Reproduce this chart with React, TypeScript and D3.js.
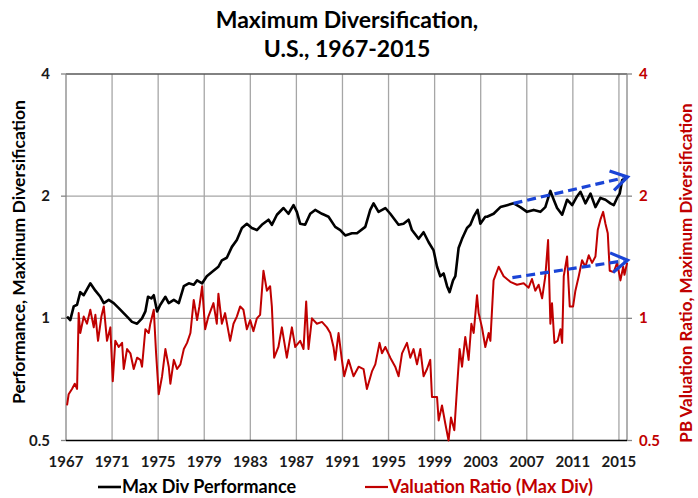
import React from "react";
import * as d3 from "d3";

const title = ["Maximum Diversification,", "U.S., 1967-2015"];
const leftAxisTitle = "Performance, Maximum Diversification";
const rightAxisTitle = "PB Valuation Ratio, Maximum Diversification";
const xTicks = [1967, 1971, 1975, 1979, 1983, 1987, 1991, 1995, 1999, 2003, 2007, 2011, 2015];
const yTicks = [0.5, 1, 2, 4];
const yTickLabels = ["0.5", "1", "2", "4"];
const seriesNames = ["Max Div Performance", "Valuation Ratio (Max Div)"];

// [year, value]
const performance: [number, number][] = [
  [1967.09, 1.01], [1967.37, 0.99], [1967.67, 1.07], [1967.96, 1.08], [1968.24, 1.16], [1968.54, 1.14],
  [1969.11, 1.22], [1969.55, 1.17], [1969.98, 1.13], [1970.28, 1.09], [1970.71, 1.11], [1971.14, 1.09],
  [1971.58, 1.06], [1972.3, 1.01], [1972.73, 0.98], [1973.17, 0.97], [1973.6, 1.0], [1973.89, 1.04],
  [1974.12, 1.13], [1974.41, 1.12], [1974.62, 1.14], [1974.91, 1.04], [1975.19, 1.08], [1975.63, 1.13],
  [1975.92, 1.09], [1976.36, 1.11], [1976.79, 1.09], [1977.23, 1.2], [1977.66, 1.22], [1978.09, 1.21],
  [1978.38, 1.24], [1978.82, 1.22], [1979.22, 1.27], [1979.8, 1.31], [1980.23, 1.34], [1980.53, 1.39],
  [1980.96, 1.41], [1981.4, 1.5], [1981.83, 1.56], [1982.27, 1.67], [1982.7, 1.71], [1983.13, 1.67],
  [1983.57, 1.65], [1984.0, 1.7], [1984.58, 1.75], [1984.87, 1.7], [1985.31, 1.8], [1985.88, 1.87],
  [1986.31, 1.81], [1986.75, 1.9], [1987.04, 1.83], [1987.33, 1.71], [1987.76, 1.7], [1988.2, 1.81],
  [1988.63, 1.85], [1989.22, 1.81], [1989.79, 1.78], [1990.37, 1.68], [1990.81, 1.65], [1991.24, 1.6],
  [1991.82, 1.62], [1992.26, 1.62], [1992.98, 1.68], [1993.41, 1.85], [1993.7, 1.92], [1994.13, 1.83],
  [1994.72, 1.87], [1995.15, 1.81], [1995.87, 1.7], [1996.3, 1.71], [1996.74, 1.75], [1997.03, 1.65],
  [1997.61, 1.57], [1998.04, 1.63], [1998.48, 1.54], [1998.91, 1.47], [1999.21, 1.34], [1999.49, 1.27],
  [1999.78, 1.29], [2000.08, 1.2], [2000.3, 1.16], [2000.6, 1.24], [2000.8, 1.27], [2001.08, 1.49],
  [2001.38, 1.57], [2001.81, 1.67], [2002.1, 1.7], [2002.39, 1.78], [2002.73, 1.85], [2002.97, 1.71],
  [2003.4, 1.78], [2003.55, 1.78], [2004.12, 1.81], [2004.71, 1.88], [2005.29, 1.9], [2005.86, 1.92],
  [2006.44, 1.88], [2007.02, 1.83], [2007.6, 1.85], [2008.18, 1.83], [2008.61, 1.88], [2009.05, 2.06],
  [2009.34, 1.96], [2009.63, 1.87], [2010.07, 1.8], [2010.5, 1.96], [2010.94, 1.9], [2011.37, 2.0],
  [2011.66, 2.05], [2012.09, 1.92], [2012.53, 2.03], [2012.96, 1.88], [2013.39, 1.98], [2013.83, 1.96],
  [2014.26, 1.92], [2014.55, 1.9], [2014.84, 1.98], [2015.07, 2.03], [2015.28, 2.19], [2015.71, 2.23],
];

const valuation: [number, number][] = [
  [1967.09, 0.61], [1967.23, 0.65], [1967.52, 0.67], [1967.76, 0.69], [1967.96, 0.67], [1968.1, 1.03],
  [1968.24, 0.92], [1968.54, 1.01], [1968.82, 0.97], [1969.11, 1.05], [1969.41, 0.95], [1969.55, 1.02],
  [1969.78, 0.88], [1970.07, 1.01], [1970.28, 1.07], [1970.56, 0.88], [1970.85, 0.95], [1971.06, 0.7],
  [1971.28, 0.88], [1971.58, 0.85], [1971.87, 0.87], [1972.01, 0.75], [1972.3, 0.84], [1972.59, 0.82],
  [1972.88, 0.75], [1973.17, 0.8], [1973.46, 0.79], [1973.6, 0.76], [1973.89, 0.94], [1974.18, 0.92],
  [1974.32, 0.97], [1974.62, 1.05], [1974.82, 0.82], [1975.05, 0.65], [1975.34, 0.72], [1975.63, 0.84],
  [1975.92, 0.76], [1976.06, 0.69], [1976.36, 0.79], [1976.64, 0.75], [1976.93, 0.77], [1977.23, 0.84],
  [1977.51, 0.87], [1977.8, 0.92], [1978.09, 1.11], [1978.38, 0.99], [1978.58, 1.07], [1978.82, 1.2],
  [1979.08, 0.94], [1979.36, 1.01], [1979.8, 1.09], [1980.09, 0.97], [1980.23, 1.15], [1980.53, 0.97],
  [1980.81, 1.03], [1981.25, 0.88], [1981.54, 0.97], [1981.83, 1.01], [1982.12, 1.07], [1982.4, 1.05],
  [1982.7, 0.94], [1982.99, 0.99], [1983.27, 0.93], [1983.57, 1.0], [1983.85, 1.02], [1984.14, 1.31],
  [1984.44, 1.17], [1984.72, 1.2], [1984.87, 1.07], [1985.07, 0.8], [1985.44, 0.85], [1985.74, 0.95],
  [1986.17, 0.8], [1986.61, 0.95], [1986.9, 0.85], [1987.33, 0.88], [1987.62, 0.84], [1987.85, 1.1],
  [1988.05, 0.84], [1988.35, 1.0], [1988.78, 0.97], [1989.22, 0.98], [1989.65, 0.95], [1989.94, 0.92],
  [1990.22, 0.85], [1990.37, 0.79], [1990.66, 0.92], [1990.95, 0.79], [1991.15, 0.72], [1991.53, 0.79],
  [1991.96, 0.72], [1992.4, 0.76], [1992.83, 0.75], [1993.12, 0.67], [1993.56, 0.74], [1993.85, 0.77],
  [1994.22, 0.87], [1994.43, 0.82], [1994.72, 0.85], [1995.15, 0.8], [1995.58, 0.76], [1995.87, 0.72],
  [1996.17, 0.82], [1996.6, 0.87], [1996.89, 0.8], [1997.17, 0.84], [1997.47, 0.77], [1997.76, 0.84],
  [1998.04, 0.72], [1998.34, 0.75], [1998.62, 0.79], [1998.77, 0.64], [1999.21, 0.64], [1999.35, 0.56],
  [1999.64, 0.61], [1999.93, 0.55], [2000.21, 0.5], [2000.42, 0.57], [2000.71, 0.53], [2000.94, 0.67],
  [2001.17, 0.84], [2001.38, 0.76], [2001.66, 0.9], [2001.95, 0.79], [2002.19, 0.97], [2002.39, 0.92],
  [2002.68, 1.14], [2002.82, 1.03], [2003.11, 0.95], [2003.4, 0.85], [2003.69, 0.92], [2003.84, 0.88],
  [2004.12, 1.24], [2004.56, 1.34], [2004.99, 1.27], [2005.57, 1.23], [2006.15, 1.21], [2006.73, 1.22],
  [2007.16, 1.19], [2007.45, 1.25], [2007.74, 1.17], [2008.03, 1.21], [2008.33, 1.12], [2008.61, 1.27],
  [2008.85, 1.56], [2009.05, 0.97], [2009.19, 1.09], [2009.4, 0.87], [2009.68, 0.88], [2009.92, 0.94],
  [2010.07, 0.87], [2010.21, 1.27], [2010.5, 1.42], [2010.73, 1.07], [2011.02, 1.07], [2011.22, 1.17],
  [2011.51, 1.27], [2011.8, 1.39], [2012.09, 1.34], [2012.38, 1.43], [2012.67, 1.37], [2012.96, 1.42],
  [2013.16, 1.65], [2013.39, 1.75], [2013.63, 1.83], [2013.83, 1.71], [2014.03, 1.62], [2014.2, 1.31],
  [2014.55, 1.3], [2014.84, 1.37], [2015.13, 1.24], [2015.37, 1.34], [2015.48, 1.28], [2015.71, 1.37],
];

// trend arrows: [x0, y0, x1, y1]
const arrows: [number, number, number, number][] = [
  [2005.85, 1.92, 2015.75, 2.23],
  [2005.75, 1.26, 2015.75, 1.39],
];

const FONT = "Lato, 'Open Sans', sans-serif";
const RED = "#C00000";
const BLUE = "#1A44D6";
const GRID = "#A6A6A6";

export default function App() {
  const left = 66, right = 627, top = 74, bottom = 440.5;
  const x = d3.scaleLinear().domain([1967, 2015.7]).range([left, right]);
  const y = d3.scaleLog().base(2).domain([0.5, 4]).range([bottom, top]);
  const line = d3.line<[number, number]>().x((d) => x(d[0])).y((d) => y(d[1]));

  const arrowEls = arrows.map((a, i) => {
    const x0 = x(a[0]), y0 = y(a[1]), x1 = x(a[2]), y1 = y(a[3]);
    const ang = Math.atan2(y1 - y0, x1 - x0);
    const L = 19, spread = 0.55;
    const h1 = [x1 - L * Math.cos(ang - spread), y1 - L * Math.sin(ang - spread)];
    const h2 = [x1 - L * Math.cos(ang + spread), y1 - L * Math.sin(ang + spread)];
    return (
      <g key={i}>
        <line x1={x0} y1={y0} x2={x1 - 4 * Math.cos(ang)} y2={y1 - 4 * Math.sin(ang)} stroke={BLUE} strokeWidth={3.2} strokeDasharray="9,5" />
        <polyline points={`${h1[0]},${h1[1]} ${x1},${y1} ${h2[0]},${h2[1]}`} fill="none" stroke={BLUE} strokeWidth={3.2} strokeLinejoin="miter" />
      </g>
    );
  });

  return (
    <svg width={698} height={498} style={{ position: "absolute", left: 0, top: 0, background: "#fff" }} fontFamily={FONT}>
      <rect width={698} height={498} fill="#fff" />
      {/* title */}
      <text x={347} y={28} textAnchor="middle" fontSize={23} fontWeight="bold" fill="#000">{title[0]}</text>
      <text x={347} y={57} textAnchor="middle" fontSize={23} fontWeight="bold" fill="#000">{title[1]}</text>

      {/* grid */}
      {xTicks.slice(1).map((t) => (
        <line key={t} x1={x(t)} x2={x(t)} y1={top} y2={bottom} stroke={GRID} strokeWidth={1.3} />
      ))}
      {yTicks.slice(1, 3).map((t) => (
        <line key={t} x1={left} x2={right} y1={y(t)} y2={y(t)} stroke={GRID} strokeWidth={1.3} />
      ))}
      <line x1={left} x2={right} y1={top} y2={top} stroke="#595959" strokeWidth={1.3} />
      <line x1={left} x2={left} y1={top} y2={bottom} stroke="#868686" strokeWidth={1.3} />
      <line x1={right} x2={right} y1={top} y2={bottom} stroke="#868686" strokeWidth={1.3} />
      <line x1={left} x2={right} y1={bottom} y2={bottom} stroke="#000" strokeWidth={1.5} />

      {/* y ticks */}
      {yTicks.map((t, i) => (
        <g key={t}>
          <line x1={left - 5} x2={left} y1={y(t)} y2={y(t)} stroke="#868686" strokeWidth={1.3} />
          <text x={50} y={y(t) + 5} textAnchor="end" fontSize={15} fontWeight="bold" fill="#1a1a1a">{yTickLabels[i]}</text>
          <line x1={right} x2={right + 5} y1={y(t)} y2={y(t)} stroke="#868686" strokeWidth={1.3} />
          <text x={639} y={y(t) + 5} textAnchor="start" fontSize={15} fontWeight="bold" fill={RED}>{yTickLabels[i]}</text>
        </g>
      ))}
      {/* x ticks */}
      {xTicks.map((t) => (
        <text key={t} x={x(t)} y={467} textAnchor="middle" fontSize={15} fontWeight="bold" fill="#1a1a1a">{t}</text>
      ))}

      {/* axis titles */}
      <text transform={`translate(25,${252}) rotate(-90)`} textAnchor="middle" fontSize={17.5} fontWeight="bold" fill="#000">{leftAxisTitle}</text>
      <text transform={`translate(692,${273}) rotate(-90)`} textAnchor="middle" fontSize={17} fontWeight="bold" fill={RED}>{rightAxisTitle}</text>

      {/* series */}
      <path d={line(valuation) || ""} fill="none" stroke={RED} strokeWidth={2} strokeLinejoin="round" />
      <path d={line(performance) || ""} fill="none" stroke="#000" strokeWidth={2.6} strokeLinejoin="round" />

      {arrowEls}

      {/* legend */}
      <line x1={98} x2={121} y1={487} y2={487} stroke="#000" strokeWidth={2.6} />
      <text x={122} y={493} fontSize={18} fontWeight="bold" fill="#000">{seriesNames[0]}</text>
      <line x1={365} x2={388} y1={487} y2={487} stroke={RED} strokeWidth={2.2} />
      <text x={389} y={493} fontSize={18} fontWeight="bold" fill={RED}>{seriesNames[1]}</text>
    </svg>
  );
}
